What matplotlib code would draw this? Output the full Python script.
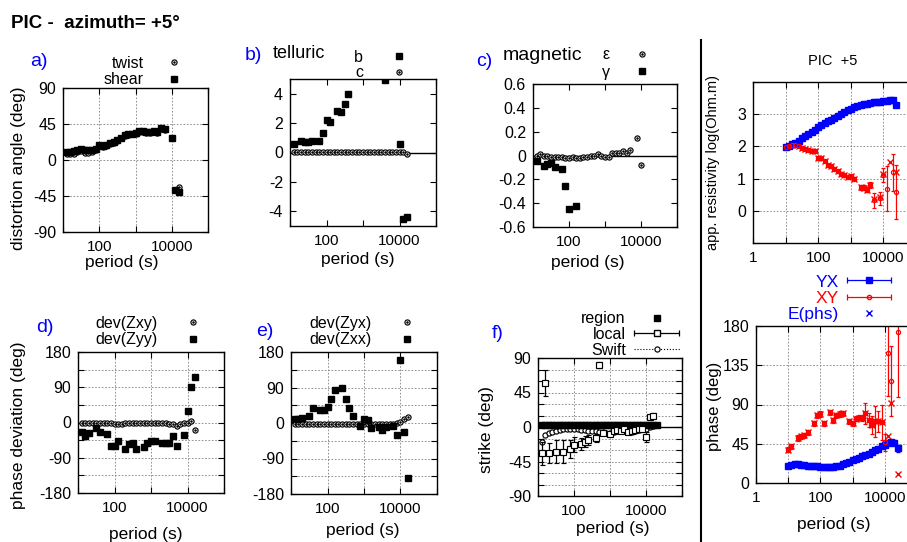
import numpy as np
import matplotlib
matplotlib.use("Agg")
import matplotlib.pyplot as plt
from matplotlib.lines import Line2D
from matplotlib.collections import LineCollection
from matplotlib.container import ErrorbarContainer
from matplotlib.legend_handler import HandlerErrorbar
from matplotlib.ticker import NullLocator

plt.rcParams['font.family'] = ['Liberation Sans', 'DejaVu Sans']
plt.rcParams['axes.linewidth'] = 1.0

W, H = 907, 542
nan = np.nan

# periods (s)
period = [12.6, 15.8, 20, 25.1, 31.6, 39.8, 50.1, 63.1, 79.4, 100,
          126, 158, 200, 251, 316, 398, 501, 631, 794, 1000,
          1259, 1585, 1995, 2512, 3162, 3981, 5012, 6310, 7943, 10000,
          12589, 15849, 19953, 25119]
period_r = [10.0] + period

# a) distortion angles
a_twist = [7, 8, 8, 10, 11, 9, 9, 10, 12, 18,
           16, 18, 20, 21, 24, 27, 30, 31, 32, 33,
           35, 35, 34, 34, 35, 34, 39, 38, nan, 27,
           -38, -34, nan, nan]
a_shear = [10, 10, 11, 12, 14, 12, 12, 12, 14, 19,
           17, 19, 21, 22, 25, 28, 31, 32, 33, 34,
           36, 36, 35, 35, 36, 35, 40, 39, nan, 28,
           -37, -40, nan, nan]

# b) telluric
b_b = [0.6, nan, 0.8, 0.72, 0.72, 0.78, nan, 0.78, 1.35, 2.2,
       2.1, nan, 2.8, 2.75, 3.3, 3.95, nan, nan, nan, nan,
       nan, nan, nan, nan, nan, 4.9, nan, nan, nan, 0.6,
       -4.55, -4.4, nan, nan]
b_c = [0.03, 0.03, 0.03, 0.03, 0.03, 0.03, 0.03, 0.03, 0.03, 0.03,
       0.03, 0.02, 0.02, 0.02, 0.02, 0.02, 0.02, 0.02, 0.02, 0.02,
       0.02, 0.02, 0.02, 0.02, 0.02, 0.02, 0.02, 0.02, 0.02, 0.02,
       0.01, -0.08, nan, nan]

# c) magnetic
c_eps = [0.0, 0.01, 0.0, 0.0, -0.01, -0.01, -0.01, -0.01, -0.02, -0.02,
         -0.01, -0.02, -0.02, -0.01, -0.01, 0.0, 0.0, 0.01, 0.0, -0.01,
         -0.01, 0.02, 0.02, 0.02, 0.04, 0.02, 0.05, nan, 0.15, -0.08,
         nan, nan, nan, nan]
c_gam = [-0.05, nan, -0.09, -0.07, -0.06, -0.10, nan, -0.11, -0.26, -0.45,
         nan, -0.42, nan, nan, nan, nan, nan, nan, nan, nan,
         nan, nan, nan, nan, nan, nan, nan, nan, nan, nan,
         nan, nan, nan, nan]

# d) phase deviation
d_zxy = [-1, -1, -1, -1, -1, -2, -2, -2, -2, -3,
         -3, -3, -2, -2, -2, -2, -2, -2, -2, -2,
         -2, -2, -2, -2, -3, -3, -9, -3, -2, 0,
         4, -20, nan, nan]
d_zyy = [-24, -35, -26, nan, -13, -24, nan, -29, -59, -59,
         -48, nan, -67, -55, -52, -67, nan, -63, -52, -48,
         -46, nan, -52, -52, -52, -35, -59, nan, -32, 29,
         90, 116, nan, nan]

# e) phase deviation
e_zyx = [-3, -3, -3, -3, -3, -3, -3, -3, -3, -3,
         -3, -3, -3, -3, -3, -3, -3, -3, -3, -3,
         -3, -3, -3, -3, -3, -3, -3, -2, 0, 3,
         9, 15, nan, nan]
e_zxx = [9, 9, 13, nan, 17, 39, nan, 34, 32, 41,
         62, 84, nan, 90, 60, 39, 19, nan, -7, 9,
         7, -13, nan, -9, -17, -10, nan, -7, -30, 159,
         -22, -140, nan, nan]

# f) strike
f_region = [3, 3, 3, 3, 3, 3, 3, 3, 3, 3,
            3, 3, 3, 3, 3, 3, 3, 3, 3, 3,
            3, 3, 3, 3, 3, 3, 3, 3, 3, 3,
            3, 3, 3, nan]
f_local = [-34, 57, -34, nan, -32, nan, -32, nan, -29, -23,
           nan, -22, -19, -17, nan, -14, 81, -8, nan, -9,
           -5, -4, -5, -3, -6, -5, -4, -3, -2, -13,
           13, 15, nan, nan]
f_local_err = [15, 17, 13, nan, 15, nan, 15, nan, 12, 10,
               nan, 8, 7, 6, nan, 5, 4, 3, nan, 3,
               2, 2, 2, 2, 2, 2, 2, 2, 2, 7,
               3, 3, nan, nan]
f_swift = [-20, -10, -8, -6, -5, -4, -3, -3, -3, -3,
           -3, -4, -4, -5, -5, -5, -6, -7, -8, -8,
           -6, -5, -5, -5, -6, -6, -5, -4, -3, -2,
           0, 1, 2, nan]

# right: apparent resistivity (log10 Ohm.m)
rt_yx = [1.98, 2.02, 2.07, 2.12, 2.18, 2.25, 2.31, 2.38, 2.45, 2.52,
         2.59, 2.65, 2.72, 2.78, 2.83, 2.89, 2.95, 3.00, 3.06, 3.12,
         3.17, 3.21, 3.25, 3.28, 3.31, 3.33, 3.35, 3.37, 3.38, 3.39,
         3.41, 3.42, 3.44, 3.45, 3.30]
rt_yx_err = [0.02, 0.02, 0.02, 0.02, 0.02, 0.02, 0.02, 0.02, 0.02, 0.02,
             0.02, 0.02, 0.02, 0.02, 0.02, 0.02, 0.02, 0.02, 0.02, 0.02,
             0.02, 0.02, 0.02, 0.02, 0.02, 0.02, 0.02, 0.02, 0.02, 0.02,
             0.03, 0.03, 0.04, 0.05, 0.06]
rt_xy = [1.97, 2.01, 2.03, 2.04, 2.01, 1.96, 1.92, 1.89, 1.86, 1.86,
         1.65, 1.64, 1.55, 1.42, 1.39, 1.30, 1.24, 1.15, 1.10, 1.06,
         1.07, 1.00, nan, 0.73, 0.72, 0.66, 0.80, 0.32, nan, 0.39,
         1.10, 0.68, nan, 1.20, 0.58]
rt_xy_err = [0.04, 0.04, 0.04, 0.04, 0.04, 0.04, 0.04, 0.04, 0.04, 0.04,
             0.04, 0.04, 0.04, 0.04, 0.04, 0.04, 0.04, 0.04, 0.04, 0.04,
             0.05, 0.05, nan, 0.07, 0.07, 0.08, 0.08, 0.23, nan, 0.2,
             0.22, 0.7, nan, 0.57, 0.83]
rt_xy_x = [1.97, 2.01, 2.03, 2.04, 2.01, 1.96, 1.92, 1.89, 1.86, 1.86,
           1.65, 1.64, 1.55, 1.42, 1.39, 1.30, 1.24, 1.15, 1.10, 1.06,
           1.07, 1.00, nan, 0.73, 0.72, 0.66, 0.80, 0.36, nan, 0.44,
           1.15, nan, 1.53, nan, 1.22]

# right: phase (deg)
rb_yx = [20, 21, 21.5, 21.5, 21, 20.5, 20, 19.5, 19, 19,
         18.5, 18.5, 18.3, 18.3, 18.5, 19, 20, 21.5, 23, 24.5,
         26, 27.5, 29, 30.5, 32, 33.5, 35.5, 37.5, 39.5, 42,
         44, 45.5, 46.5, 46, 40]
rb_yx_err = [1, 1, 1, 1, 1, 1, 1, 1, 1, 1,
             1, 1, 1, 1, 1, 1, 1, 1, 1, 1,
             1, 1, 1, 1, 1, 1, 1, 1, 1, 1,
             1.5, 2, 2, 3, 4]
rb_xy = [38, 42, nan, 51.5, 53.4, 54.5, 58, nan, 68.6, 77.4,
         79, 68.6, nan, 80.9, 71.7, 77.4, 79, 80, nan, 70.6,
         68.6, 73.6, 75, 74.4, 80, 71.7, 66.7, 70.6, 70.6, 69.4,
         46.5, 149.5, 117, nan, 173.5]
rb_xy_err = [3, 3, nan, 3, 3, 3, 3, nan, 3, 3,
             3, 3, nan, 3, 3, 3, 3, 3, nan, 3,
             3, 3, 3, 3, 12, 8, 10, 18, 12, 20,
             10, 50, 40, nan, 75]
rb_xy_x = [38, 42, nan, 51.5, 53.4, 54.5, 58, nan, 68.6, 77.4,
           79, 68.6, nan, 80.9, 71.7, 77.4, 79, 80, nan, 70.6,
           68.6, 73.6, 75, 74.4, 80, 71.7, 66.7, 70.6, 70.6, 69.4,
           45.8, 54, 91.5, nan, 10.7]

fig = plt.figure(figsize=(W / 100, H / 100), dpi=100)


def box(l, r, t, b):
    return [l / W, 1 - b / H, (r - l) / W, (b - t) / H]


def fxy(x, y):
    return (x / W, 1 - y / H)


GRID = dict(color='#808080', lw=0.6, ls=(0, (2, 2)))
SQ = 4.7   # filled square size
CI = 3.7   # open circle size


def style(ax, xlim, xticks, xlabels, ylim, yticks, ylabels, grid=True):
    ax.set_xscale('log')
    ax.set_xlim(*xlim)
    ax.set_ylim(*ylim)
    ax.set_xticks(xticks)
    ax.set_xticklabels(xlabels)
    ax.xaxis.set_minor_locator(NullLocator())
    ax.set_yticks(yticks)
    ax.set_yticklabels(ylabels)
    ax.tick_params(direction='in', top=True, right=True, length=4, width=0.8,
                   labelsize=11.5, pad=5)
    ax.tick_params(axis='x', pad=5.5, labelsize=11)
    if grid:
        ax.grid(True, **GRID)
        ax.set_axisbelow(True)


def labels(ax, xl, xpos, yl=None, ypos=None, yfs=12.5):
    ax.set_xlabel(xl, fontsize=12.5)
    ax.xaxis.label.set_va('center')
    ax.xaxis.set_label_coords(*fxy(xpos[0], xpos[1] + 1), transform=fig.transFigure)
    if yl:
        ax.set_ylabel(yl, fontsize=yfs)
        ax.yaxis.label.set_va('center')
        ax.yaxis.set_label_coords(*fxy(*ypos), transform=fig.transFigure)


def squares(ax, x, y, ms=SQ, color='black'):
    ax.plot(x, y, 's', ms=ms, color=color, ls='none')


def dotcircles(ax, x, y, ms=CI, color='black'):
    ax.plot(x, y, 'o', ms=ms, mfc='white', mec=color, mew=0.85, ls='none')
    ax.plot(x, y, 'o', ms=0.8, mfc=color, mec=color, ls='none')


def h_square(ms=SQ, color='black'):
    return Line2D([], [], marker='s', ms=ms, color=color, ls='none')


def h_circle(ms=CI, color='black'):
    return (Line2D([], [], marker='o', ms=ms, mfc='white', mec=color, mew=0.85, ls='none'),
            Line2D([], [], marker='o', ms=0.8, mfc=color, mec=color, ls='none'))


def h_errbar(marker, ms, color, mfc):
    line = Line2D([], [], marker=marker, ms=ms, color=color, mfc=mfc, mec=color, ls='none')
    cap = Line2D([], [], color=color, marker='|', ms=5, mew=0.9)
    bar = LineCollection([], colors=color, linewidths=0.9)
    return ErrorbarContainer((line, (cap, cap), (bar,)), has_xerr=True, has_yerr=False)


def key(ax, handles, names, right, cy, fs=11.5, hl=1.0, pad=1.4, spacing=0.2, hmap=None):
    ax.legend(handles, names, loc='center right', bbox_to_anchor=fxy(right, cy),
              bbox_transform=fig.transFigure, frameon=False, markerfirst=False,
              fontsize=fs, handlelength=hl, handletextpad=pad, labelspacing=spacing,
              borderpad=0, borderaxespad=0, handler_map=hmap)


def tag(x, y, s, **kw):
    fig.text(*fxy(x, y), s, va='center', **kw)


LX = (10, 1e5)
LXT = [10, 100, 1000, 10000, 100000]
LXL = ['', '100', '', '10000', '']

# title
tag(11, 23, 'PIC -  azimuth= +5°', fontsize=13.5, fontweight='bold')

# a)
ax = fig.add_axes(box(63, 208, 88, 232))
style(ax, LX, LXT, LXL, (-90, 90), [-90, -45, 0, 45, 90], ['-90', '-45', '0', '45', '90'])
dotcircles(ax, period, a_twist)
squares(ax, period, a_shear)
labels(ax, 'period (s)', (122, 262), 'distortion angle (deg)', (19, 168))
key(ax, [h_circle(), h_square()], ['twist', 'shear'], 182, 71.5, hl=1.0, pad=1.4, spacing=0.12)
tag(30, 62, 'a)', color='blue', fontsize=14)

# b)
ax = fig.add_axes(box(290, 436, 79, 226))
style(ax, LX, LXT, LXL, (-5, 5), [-4, -2, 0, 2, 4], ['-4', '-2', '0', '2', '4'], grid=False)
ax.axhline(0, color='black', lw=1)
dotcircles(ax, period, b_c)
squares(ax, period, b_b)
labels(ax, 'period (s)', (358, 258))
key(ax, [h_square(), h_circle()], ['b', 'c'], 407, 65, hl=1.0, pad=1.75, spacing=0.05)
tag(245, 55, 'b)', color='blue', fontsize=14)
tag(273, 53, 'telluric', fontsize=13)

# c)
ax = fig.add_axes(box(533, 677, 84, 227))
style(ax, LX, LXT, LXL, (-0.6, 0.6), [-0.6, -0.4, -0.2, 0, 0.2, 0.4, 0.6],
      ['-0.6', '-0.4', '-0.2', '0', '0.2', '0.4', '0.6'], grid=False)
ax.axhline(0, color='black', lw=1)
dotcircles(ax, period, c_eps)
squares(ax, period, c_gam)
labels(ax, 'period (s)', (588, 262))
key(ax, [h_circle(), h_square()], ['ε', 'γ'], 650, 63.5, hl=1.0, pad=1.5, spacing=0.15)
tag(476, 62, 'c)', color='blue', fontsize=14)
tag(503, 55, 'magnetic', fontsize=14)

PT = [-180, -135, -90, -45, 0, 45, 90, 135, 180]
PL = ['-180', '', '-90', '', '0', '', '90', '', '180']

# d)
ax = fig.add_axes(box(78, 224, 352, 493))
style(ax, LX, LXT, LXL, (-180, 180), PT, PL)
dotcircles(ax, period, d_zxy)
squares(ax, period, d_zyy)
labels(ax, 'period (s)', (146, 533), 'phase deviation (deg)', (19, 425))
key(ax, [h_circle(), h_square()], ['dev(Zxy)', 'dev(Zyy)'], 201, 331.5, hl=1.0, pad=1.7, spacing=0.1)
tag(36, 328, 'd)', color='blue', fontsize=14)

# e)
ax = fig.add_axes(box(291, 437, 352, 494))
style(ax, LX, LXT, LXL, (-180, 180), PT, PL)
dotcircles(ax, period, e_zyx)
squares(ax, period, e_zxx)
labels(ax, 'period (s)', (363, 530))
key(ax, [h_circle(), h_square()], ['dev(Zyx)', 'dev(Zxx)'], 415, 331.5, hl=1.0, pad=1.7, spacing=0.1)
tag(256, 332, 'e)', color='blue', fontsize=14)

# f)
ax = fig.add_axes(box(538, 682, 358, 496))
style(ax, LX, LXT, LXL, (-90, 90), list(range(-90, 91, 15)),
      ['-90', '', '', '-45', '', '', '0', '', '', '45', '', '', '90'])
ax.axhline(0, color='black', lw=1)
ax.plot(period, f_swift, 'o', ls=':', lw=0.8, color='black', ms=CI, mfc='white', mew=0.85)
squares(ax, period, f_region)
ax.errorbar(period, f_local, yerr=f_local_err, fmt='s', ms=3.8, mfc='white', mec='black',
            mew=0.85, ecolor='black', elinewidth=0.9, capsize=1.8, capthick=0.9)
labels(ax, 'period (s)', (613, 527), 'strike (deg)', (487, 430))
hm = {ErrorbarContainer: HandlerErrorbar(xerr_size=1.4)}
key(ax, [h_square(),
         h_errbar('s', 3.8, 'black', 'white'),
         Line2D([], [], marker='o', ls=':', lw=0.8, color='black', ms=CI, mfc='white', mew=0.85)],
    ['region', 'local', 'Swift'], 680, 334.5, hl=2.9, pad=0.5, spacing=0.05, hmap=hm)
tag(492, 333, 'f)', color='blue', fontsize=14)

# separator
fig.add_artist(Line2D([701 / W, 701 / W], [0, 1 - 40 / H], color='black', lw=1.5))

RX = (1, 1e5)
RXT = [1, 10, 100, 1000, 10000, 100000]
RXL = ['1', '', '100', '', '10000', '']

# right top: apparent resistivity
ax = fig.add_axes(box(753, 916, 82, 243))
style(ax, RX, RXT, RXL, (-1, 4), [-1, 0, 1, 2, 3, 4], ['', '0', '1', '2', '3', ''])
ax.errorbar(period_r, rt_yx, yerr=rt_yx_err, fmt='s', ms=4, color='blue',
            elinewidth=0.8, capsize=1.5)
ax.errorbar(period_r, rt_xy, yerr=rt_xy_err, fmt='o', ms=3, color='red', mfc='none',
            mew=0.9, elinewidth=0.9, capsize=1.6)
ax.plot(period_r, rt_xy_x, 'x', ms=4.5, color='red', mew=1.0)
ax.set_ylabel('app. resistivity log(Ohm.m)', fontsize=10.5)
ax.yaxis.label.set_va('center')
ax.yaxis.set_label_coords(*fxy(713, 162), transform=fig.transFigure)
tag(833, 61, 'PIC  +5', fontsize=10.5, ha='center')

# right bottom: phase
ax = fig.add_axes(box(756, 917, 326, 483))
style(ax, RX, RXT, RXL, (0, 180), [0, 45, 90, 135, 180], ['0', '45', '90', '135', '180'])
ax.errorbar(period_r, rb_yx, yerr=rb_yx_err, fmt='s', ms=4, color='blue',
            elinewidth=0.8, capsize=1.5)
ax.plot(period_r, rb_yx, 'x', ms=4.5, color='blue', mew=1.0)
ax.errorbar(period_r, rb_xy, yerr=rb_xy_err, fmt='o', ms=3, color='red', mfc='none',
            mew=0.9, elinewidth=0.9, capsize=1.6)
ax.plot(period_r, rb_xy_x, 'x', ms=4.5, color='red', mew=1.0)
labels(ax, 'period (s)', (834, 523), 'phase (deg)', (714, 406), yfs=12)
hm = {ErrorbarContainer: HandlerErrorbar(xerr_size=1.27)}
key(ax, [h_errbar('s', 4, 'blue', 'blue'),
         h_errbar('o', 3, 'red', 'none'),
         Line2D([], [], marker='x', ms=4.5, color='blue', mew=1.0, ls='none')],
    ['YX', 'XY', 'E(phs)'], 890, 298, fs=12.5, hl=2.4, pad=0.55, spacing=0.05, hmap=hm)
lg = ax.get_legend()
for t, c in zip(lg.get_texts(), ['blue', 'red', 'blue']):
    t.set_color(c)

fig.savefig('out.png', dpi=100)
